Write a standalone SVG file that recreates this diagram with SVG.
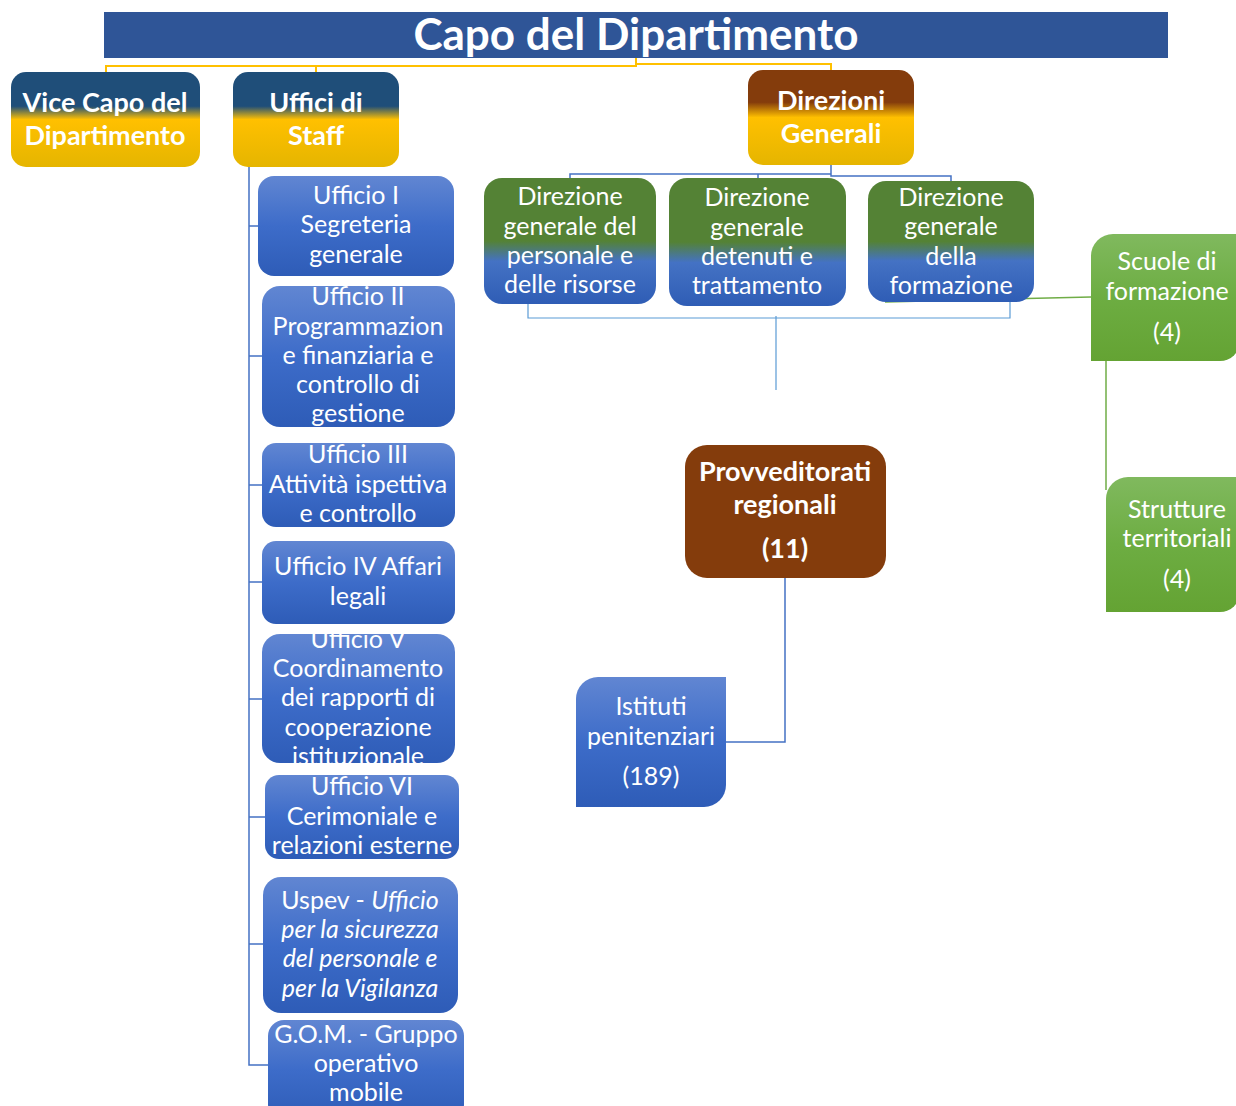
<svg xmlns="http://www.w3.org/2000/svg" width="1236" height="1106" viewBox="0 0 1236 1106">
<defs>
<linearGradient id="gBlueYellow" x1="0" y1="0" x2="0" y2="1">
<stop offset="0" stop-color="#1F4E79"/><stop offset="0.36" stop-color="#1F4E79"/><stop offset="0.5" stop-color="#FFC000"/><stop offset="1" stop-color="#E5B500"/>
</linearGradient>
<linearGradient id="gBrownYellow" x1="0" y1="0" x2="0" y2="1">
<stop offset="0" stop-color="#843C0C"/><stop offset="0.34" stop-color="#843C0C"/><stop offset="0.5" stop-color="#FFC000"/><stop offset="1" stop-color="#E5B500"/>
</linearGradient>
<linearGradient id="gGreenBlue" x1="0" y1="0" x2="0" y2="1">
<stop offset="0" stop-color="#548235"/><stop offset="0.5" stop-color="#548235"/><stop offset="0.66" stop-color="#4472C4"/><stop offset="1" stop-color="#2F5DB5"/>
</linearGradient>
<linearGradient id="gBlue" x1="0" y1="0" x2="0" y2="1">
<stop offset="0" stop-color="#6186D2"/><stop offset="0.5" stop-color="#3D6CC9"/><stop offset="1" stop-color="#2E5CB7"/>
</linearGradient>
<linearGradient id="gGreen" x1="0" y1="0" x2="0" y2="1">
<stop offset="0" stop-color="#80B95E"/><stop offset="0.5" stop-color="#6DAD42"/><stop offset="1" stop-color="#64A333"/>
</linearGradient>
</defs>
<style>
text{font-family:Lato,"Open Sans","Liberation Sans",sans-serif;fill:#fff;text-anchor:middle}
.t{font-size:25px}
.b{font-size:27px;font-weight:bold}
.i{font-style:italic}
.y{fill:none;stroke:#FFC000;stroke-width:2}
.bl{fill:none;stroke:#4472C4;stroke-width:1.5}
.lb{fill:none;stroke:#5B9BD5;stroke-width:1.2}
.gr{fill:none;stroke:#70AD47;stroke-width:1.5}
</style>
<rect width="1236" height="1106" fill="#fff"/>

<g id="connectors">
<path class="y" d="M636,58 V66 H106 V73 M316,66 V73 M636,58 V64 H831 V71"/>
<path class="bl" d="M831,165 V174 H570 V179 M831,165 V174 H758 V179 M831,165 V176 H951 V182"/>
<path class="lb" d="M528,265 V318 H1010 V258 M776,316 V390"/>
<path class="gr" d="M885,302 L1091,297 M1106,361 V490"/>
<path class="bl" d="M785,578 V742 H726"/>
<path class="bl" d="M249,167 V1065 H268 M249,226 H258 M249,356 H262 M249,485 H262 M249,582 H262 M249,699 H262 M249,817 H265 M249,944 H263"/>
</g>

<g id="capo">
<rect x="104" y="12" width="1064" height="46" fill="#2F5597"/>
<text x="636" y="50" style="font-size:44px;font-weight:bold">Capo del Dipartimento</text>
</g>

<g id="vice">
<rect x="11" y="72" width="189" height="95" rx="15" fill="url(#gBlueYellow)"/>
<text class="b" x="105" y="112">Vice Capo del</text>
<text class="b" x="105" y="145">Dipartimento</text>
</g>

<g id="staff">
<rect x="233" y="72" width="166" height="95" rx="15" fill="url(#gBlueYellow)"/>
<text class="b" x="316" y="112">Uffici di</text>
<text class="b" x="316" y="145">Staff</text>
</g>

<g id="direzioni">
<rect x="748" y="70" width="166" height="95" rx="15" fill="url(#gBrownYellow)"/>
<text class="b" x="831" y="110">Direzioni</text>
<text class="b" x="831" y="143">Generali</text>
</g>

<g id="dg-personale">
<rect x="484" y="178" width="172" height="126" rx="18" fill="url(#gGreenBlue)"/>
<text class="t" x="570" y="205">Direzione</text>
<text class="t" x="570" y="235">generale del</text>
<text class="t" x="570" y="264">personale e</text>
<text class="t" x="570" y="293">delle risorse</text>
</g>

<g id="dg-detenuti">
<rect x="669" y="178" width="177" height="128" rx="18" fill="url(#gGreenBlue)"/>
<text class="t" x="757" y="206">Direzione</text>
<text class="t" x="757" y="236">generale</text>
<text class="t" x="757" y="265">detenuti e</text>
<text class="t" x="757" y="294">trattamento</text>
</g>

<g id="dg-formazione">
<rect x="868" y="181" width="166" height="121" rx="18" fill="url(#gGreenBlue)"/>
<text class="t" x="951" y="206">Direzione</text>
<text class="t" x="951" y="235">generale</text>
<text class="t" x="951" y="265">della</text>
<text class="t" x="951" y="294">formazione</text>
</g>

<g id="scuole">
<path d="M1091,361 V256 A22,22 0 0 1 1113,234 H1240 V341 A20,20 0 0 1 1220,361 Z" fill="url(#gGreen)"/>
<text class="t" x="1167" y="270">Scuole di</text>
<text class="t" x="1167" y="300">formazione</text>
<text class="t" x="1167" y="341">(4)</text>
</g>

<g id="strutture">
<path d="M1106,612 V499 A22,22 0 0 1 1128,477 H1240 V592 A20,20 0 0 1 1220,612 Z" fill="url(#gGreen)"/>
<text class="t" x="1177" y="518">Strutture</text>
<text class="t" x="1177" y="547">territoriali</text>
<text class="t" x="1177" y="588">(4)</text>
</g>

<g id="provveditorati">
<rect x="685" y="445" width="201" height="133" rx="22" fill="#843C0C"/>
<text class="b" x="785" y="481">Provveditorati</text>
<text class="b" x="785" y="514">regionali</text>
<text class="b" x="785" y="558">(11)</text>
</g>

<g id="istituti">
<path d="M576,807 V699 A22,22 0 0 1 598,677 H726 V785 A22,22 0 0 1 704,807 Z" fill="url(#gBlue)"/>
<text class="t" x="651" y="715">Istituti</text>
<text class="t" x="651" y="745">penitenziari</text>
<text class="t" x="651" y="785">(189)</text>
</g>

<g id="ufficio-1">
<rect x="258" y="176" width="196" height="100" rx="16" fill="url(#gBlue)"/>
<text class="t" x="356" y="204">Ufficio I</text>
<text class="t" x="356" y="233">Segreteria</text>
<text class="t" x="356" y="263">generale</text>
</g>

<g id="ufficio-2">
<rect x="262" y="286" width="193" height="141" rx="18" fill="url(#gBlue)"/>
<text class="t" x="358" y="305">Ufficio II</text>
<text class="t" x="358" y="335">Programmazion</text>
<text class="t" x="358" y="364">e finanziaria e</text>
<text class="t" x="358" y="393">controllo di</text>
<text class="t" x="358" y="422">gestione</text>
</g>

<g id="ufficio-3">
<rect x="262" y="443" width="193" height="84" rx="14" fill="url(#gBlue)"/>
<text class="t" x="358" y="463">Ufficio III</text>
<text class="t" x="358" y="493">Attività ispettiva</text>
<text class="t" x="358" y="522">e controllo</text>
</g>

<g id="ufficio-4">
<rect x="262" y="541" width="193" height="83" rx="14" fill="url(#gBlue)"/>
<text class="t" x="358" y="575">Ufficio IV Affari</text>
<text class="t" x="358" y="605">legali</text>
</g>

<g id="ufficio-5">
<rect x="262" y="634" width="193" height="129" rx="18" fill="url(#gBlue)"/>
<text class="t" x="358" y="648">Ufficio V</text>
<text class="t" x="358" y="677">Coordinamento</text>
<text class="t" x="358" y="706">dei rapporti di</text>
<text class="t" x="358" y="736">cooperazione</text>
<text class="t" x="358" y="765">istituzionale</text>
</g>

<g id="ufficio-6">
<rect x="265" y="775" width="194" height="84" rx="14" fill="url(#gBlue)"/>
<text class="t" x="362" y="795">Ufficio VI</text>
<text class="t" x="362" y="825">Cerimoniale e</text>
<text class="t" x="362" y="854">relazioni esterne</text>
</g>

<g id="uspev">
<rect x="263" y="877" width="195" height="136" rx="18" fill="url(#gBlue)"/>
<text class="t" x="360" y="909">Uspev - <tspan class="i">Ufficio</tspan></text>
<text class="t i" x="360" y="938">per la sicurezza</text>
<text class="t i" x="360" y="967">del personale e</text>
<text class="t i" x="360" y="997">per la Vigilanza</text>
</g>

<g id="gom">
<rect x="268" y="1020" width="196" height="100" rx="16" fill="url(#gBlue)"/>
<text class="t" x="366" y="1043">G.O.M. - Gruppo</text>
<text class="t" x="366" y="1072">operativo</text>
<text class="t" x="366" y="1101">mobile</text>
</g>
</svg>
